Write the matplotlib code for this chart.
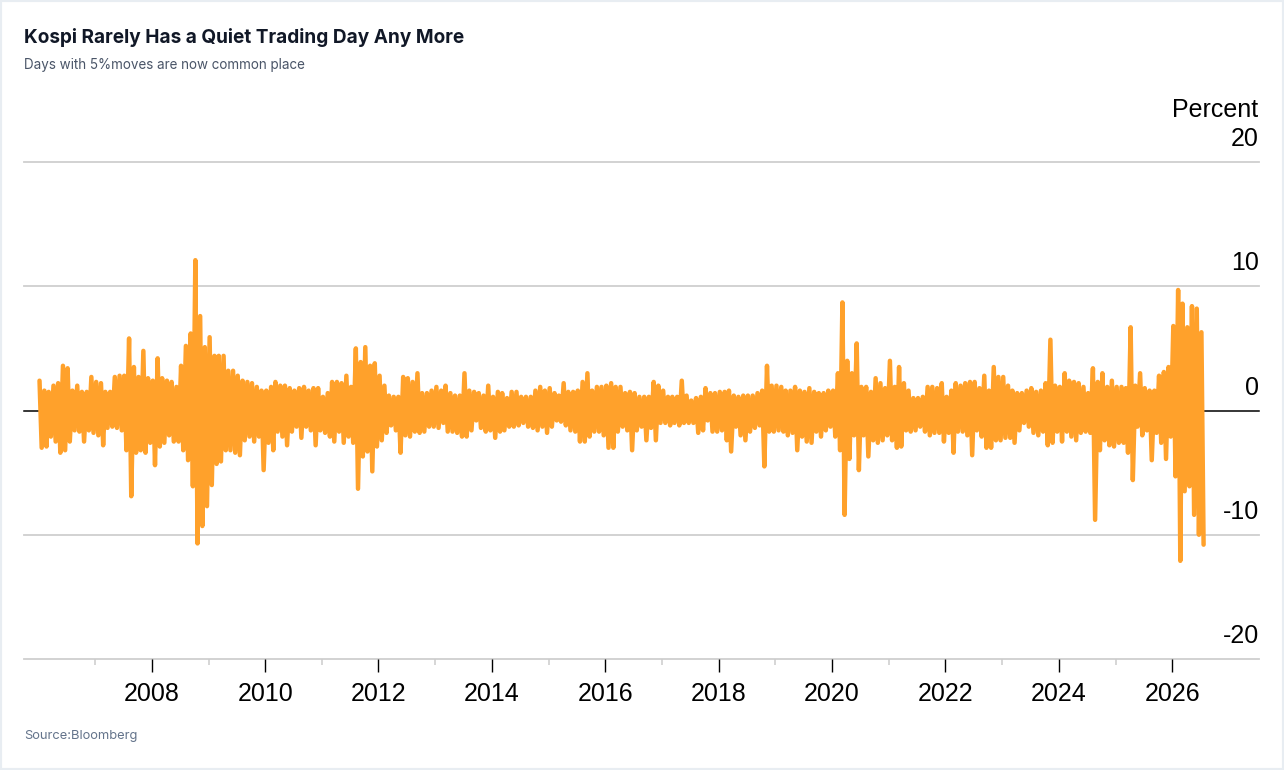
import numpy as np
import matplotlib
matplotlib.use('Agg')
import matplotlib.pyplot as plt
from matplotlib.patches import Rectangle
from matplotlib.transforms import ScaledTranslation, blended_transform_factory

plt.rcParams['axes.unicode_minus'] = False

W, H = 1284, 770

# daily Kospi moves, summarised as the highest and lowest daily % change per month
# Jan 2006 .. Jul 2026
month_highs = [
    2.4, 1.6, 1.5, 2.0, 2.2, 3.6, 3.4, 1.6, 2.0, 1.5, 1.5, 2.7,    # 2006
    2.3, 2.2, 1.5, 1.5, 2.7, 2.8, 2.8, 5.8, 3.5, 2.7, 4.8, 2.6,    # 2007
    2.4, 4.2, 2.6, 2.4, 2.3, 1.9, 3.6, 5.2, 6.2, 12.1, 7.6, 5.1,   # 2008
    5.9, 4.4, 4.4, 4.4, 3.2, 3.2, 2.8, 2.4, 2.3, 2.2, 1.9, 1.6,    # 2009
    1.6, 1.9, 2.3, 2.0, 2.0, 1.8, 1.6, 1.8, 1.9, 1.6, 1.8, 1.8,    # 2010
    1.1, 1.4, 2.3, 2.3, 2.2, 2.8, 1.9, 5.0, 3.9, 5.1, 3.6, 3.8,    # 2011
    2.8, 2.0, 1.2, 1.1, 1.1, 2.7, 2.6, 2.3, 3.0, 1.4, 1.4, 1.6,    # 2012
    1.9, 1.6, 2.0, 1.4, 1.2, 1.2, 3.0, 1.6, 1.5, 1.4, 1.2, 2.0,    # 2013
    1.1, 1.5, 1.4, 1.0, 1.5, 1.5, 1.1, 1.1, 1.1, 1.6, 1.9, 1.6,    # 2014
    1.8, 1.4, 1.2, 2.2, 1.5, 1.5, 1.6, 2.3, 3.0, 1.6, 1.9, 1.9,    # 2015
    2.0, 2.2, 1.9, 1.9, 1.4, 1.5, 1.4, 1.1, 1.1, 1.1, 2.3, 2.0,    # 2016
    1.6, 1.1, 1.1, 1.1, 2.4, 1.2, 0.8, 1.0, 1.1, 1.8, 1.4, 1.4,    # 2017
    1.5, 1.5, 1.6, 1.2, 1.1, 1.2, 1.2, 1.2, 1.4, 1.6, 3.6, 2.0,    # 2018
    2.0, 1.9, 1.6, 1.6, 1.9, 1.6, 1.5, 1.8, 1.5, 1.4, 1.4, 1.6,    # 2019
    1.6, 3.0, 8.7, 4.0, 3.0, 5.4, 1.9, 1.9, 1.5, 2.6, 2.2, 1.8,    # 2020
    4.0, 1.9, 3.5, 2.2, 1.6, 1.0, 1.0, 1.1, 1.9, 1.9, 1.8, 2.2,    # 2021
    1.1, 1.6, 2.2, 2.0, 2.2, 2.3, 2.3, 1.8, 2.8, 1.6, 3.5, 2.7,    # 2022
    2.7, 2.0, 1.6, 1.4, 1.4, 1.6, 1.8, 1.5, 1.6, 2.2, 5.7, 2.0,    # 2023
    1.9, 3.0, 2.4, 2.3, 2.2, 1.9, 1.4, 3.4, 2.3, 3.0, 1.9, 2.4,    # 2024
    1.9, 1.9, 1.8, 6.7, 2.0, 3.0, 1.8, 1.6, 1.6, 2.8, 3.1, 3.5,    # 2025
    6.8, 9.7, 8.6, 6.7, 8.4, 8.2, 6.3,                             # 2026
]
month_lows = [
    -3.0, -2.9, -2.1, -2.5, -3.4, -3.2, -2.5, -1.6, -1.7, -2.5, -1.6, -1.8,     # 2006
    -2.0, -2.8, -1.4, -1.3, -1.4, -1.6, -3.2, -6.9, -3.4, -3.2, -3.4, -2.6,     # 2007
    -4.4, -2.9, -2.6, -2.0, -2.5, -2.5, -3.2, -4.0, -6.1, -10.7, -9.3, -7.7,    # 2008
    -6.0, -4.3, -4.1, -3.2, -3.2, -3.4, -3.6, -2.4, -2.1, -2.5, -2.1, -4.8,     # 2009
    -2.6, -3.2, -1.7, -2.1, -2.8, -1.7, -1.3, -2.2, -1.3, -1.6, -2.8, -1.6,     # 2010
    -1.8, -2.1, -2.5, -1.7, -2.6, -2.1, -2.6, -6.3, -3.7, -3.3, -4.9, -2.9,     # 2011
    -2.4, -1.8, -1.2, -1.6, -3.4, -2.0, -2.1, -1.7, -1.8, -1.7, -1.3, -1.3,     # 2012
    -1.4, -1.0, -1.7, -1.7, -1.8, -2.1, -2.1, -1.6, -0.8, -1.4, -1.7, -1.6,     # 2013
    -2.2, -1.7, -1.6, -1.3, -1.3, -1.2, -1.0, -1.3, -1.4, -1.6, -1.3, -1.8,     # 2014
    -1.3, -0.8, -0.9, -1.2, -1.6, -1.7, -2.5, -2.5, -2.1, -1.7, -1.7, -2.0,     # 2015
    -3.0, -3.0, -1.7, -1.3, -1.6, -3.2, -1.6, -1.3, -2.4, -1.4, -2.4, -1.0,     # 2016
    -1.0, -1.2, -1.0, -1.2, -1.0, -1.0, -1.0, -1.8, -1.6, -0.8, -1.7, -1.7,     # 2017
    -1.6, -2.4, -3.3, -1.3, -2.0, -2.4, -1.7, -1.4, -1.2, -4.5, -1.7, -1.7,     # 2018
    -1.6, -1.7, -2.0, -1.8, -3.2, -2.1, -2.5, -2.6, -1.7, -2.1, -1.6, -1.3,     # 2019
    -2.1, -3.2, -8.4, -3.9, -2.0, -4.8, -2.0, -3.7, -2.4, -2.6, -2.4, -2.0,     # 2020
    -2.4, -3.0, -2.9, -1.6, -1.7, -1.6, -1.3, -1.7, -2.0, -1.8, -1.8, -2.5,     # 2021
    -1.8, -3.4, -1.7, -1.7, -2.0, -3.6, -1.6, -2.1, -3.0, -3.0, -2.4, -2.4,     # 2022
    -2.2, -2.2, -2.6, -1.6, -1.0, -1.3, -1.8, -2.0, -1.7, -2.8, -2.6, -1.7,     # 2023
    -2.5, -1.7, -2.1, -2.4, -1.8, -1.7, -1.8, -8.8, -3.2, -2.4, -2.8, -2.9,     # 2024
    -2.6, -2.6, -3.4, -5.6, -1.3, -2.0, -1.6, -4.0, -1.8, -2.6, -3.9, -2.1,     # 2025
    -5.3, -12.1, -6.5, -6.1, -8.4, -10.0, -10.8,                                # 2026
]
months = np.arange('2006-01', '2026-08', dtype='datetime64[M]')

yticks = [-20, -10, 0, 10, 20]
major_years = [2008, 2010, 2012, 2014, 2016, 2018, 2020, 2022, 2024, 2026]
minor_years = [2007, 2009, 2011, 2013, 2015, 2017, 2019, 2021, 2023, 2025]

title = 'Kospi Rarely Has a Quiet Trading Day Any More'
subtitle = 'Days with 5%moves are now common place'
source = 'Source:Bloomberg'

# zigzag: monthly high early in the month, low later in the month
days = months.astype('datetime64[D]')
xs = np.empty(2 * len(months), dtype='datetime64[D]')
xs[0::2] = days + 7
xs[1::2] = days + 21
ys = np.empty(2 * len(months))
ys[0::2] = month_highs
ys[1::2] = month_lows

fig = plt.figure(figsize=(W / 100, H / 100), dpi=100)
fig.patch.set_facecolor('white')
ax = fig.add_axes([24 / W, 1 - 659 / H, (1259 - 24) / W, (659 - 162) / H])
ax.set_facecolor('none')

for v in yticks:
    ax.axhline(v, color='black' if v == 0 else '#cfcfcf',
               lw=1.1 if v == 0 else 1.3, clip_on=False, zorder=1)

ax.plot(xs, ys, color='#FFA12B', lw=3.2, solid_joinstyle='round',
        solid_capstyle='round', zorder=3)

ax.set_xlim(np.datetime64('2005-09-30'), np.datetime64('2027-07-14'))
ax.set_ylim(-20, 20)

for s in ax.spines.values():
    s.set_visible(False)

ax.set_xticks([np.datetime64(f'{y}-01-01') for y in major_years])
ax.set_xticklabels([str(y) for y in major_years])
ax.set_xticks([np.datetime64(f'{y}-01-01') for y in minor_years], minor=True)
ax.tick_params(axis='x', which='major', length=9, width=1.0, color='black',
               pad=7.5, labelsize=18)
ax.tick_params(axis='x', which='minor', length=4.3, width=1.1, color='#cccccc')
for lbl in ax.get_xticklabels():
    lbl.set_fontfamily('Liberation Sans')

ax.set_yticks([])
ytrans = blended_transform_factory(ax.transAxes, ax.transData) + \
    ScaledTranslation(0, 11.5 / 72, fig.dpi_scale_trans)
for v in yticks:
    ax.text(1.0, v, str(v), transform=ytrans, ha='right', va='baseline',
            fontsize=18, family='Liberation Sans', color='black')

fig.text(1258 / W, 1 - 116.7 / H, 'Percent', ha='right', va='baseline',
         fontsize=18, family='Liberation Sans', color='black')

fig.text(24 / W, 1 - 43.3 / H, title, ha='left', va='baseline',
         fontsize=13.7, fontweight='bold', family=['Inter', 'DejaVu Sans'],
         color='#111827')
fig.text(24 / W, 1 - 69.5 / H, subtitle, ha='left', va='baseline',
         fontsize=9.7, family=['Inter', 'DejaVu Sans'], color='#4a5568')
fig.text(24 / W, 1 - 739 / H, source, ha='left', va='baseline',
         fontsize=9.3, family=['Inter', 'DejaVu Sans'], color='#64748b')

fig.patches.append(Rectangle((0, 0), 1, 1, transform=fig.transFigure,
                             facecolor='none', edgecolor='#e8edf2', lw=3,
                             zorder=10))

fig.savefig('out.png', dpi=100)
